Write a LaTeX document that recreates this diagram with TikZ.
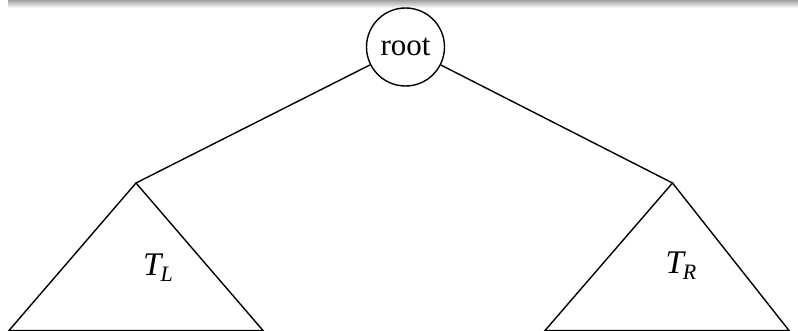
\documentclass[tikz,border=0pt]{standalone}
\usepackage{fontspec}
\setmainfont{Liberation Serif}
\begin{document}
\begin{tikzpicture}[x=1pt,y=-1pt,
  treeline/.style={line width=1.4pt,black},
  rootnode/.style={circle,draw,line width=1.4pt,minimum size=78pt,inner sep=0pt,font=\fontsize{31}{33}\selectfont},
  sublabel/.style={font=\fontsize{33}{35}\selectfont\itshape,inner sep=0pt}
]
\useasboundingbox (0,0) rectangle (798,331);
% top shadow bar
\shade[top color=gray!75,bottom color=white] (8,0) rectangle (798,8);
\node[rootnode] (root) at (405.5,47) {root};
\coordinate (la) at (136,183);
\coordinate (ll) at (9,330.5);
\coordinate (lr) at (263,330.5);
\coordinate (ra) at (672.5,183);
\coordinate (rl) at (545,330.5);
\coordinate (rr) at (789,330.5);
\draw[treeline] (root) -- (la);
\draw[treeline] (root) -- (ra);
\draw[treeline,line join=miter] (ll) -- (la) -- (lr) -- cycle;
\draw[treeline,line join=miter] (rl) -- (ra) -- (rr) -- cycle;
\node[sublabel] (tl) at (158,268) {T\kern-1pt\raisebox{-6pt}{\fontsize{22}{24}\selectfont L}};
\node[sublabel] (tr) at (681,266) {T\kern-1pt\raisebox{-6pt}{\fontsize{22}{24}\selectfont R}};
\end{tikzpicture}
\end{document}
